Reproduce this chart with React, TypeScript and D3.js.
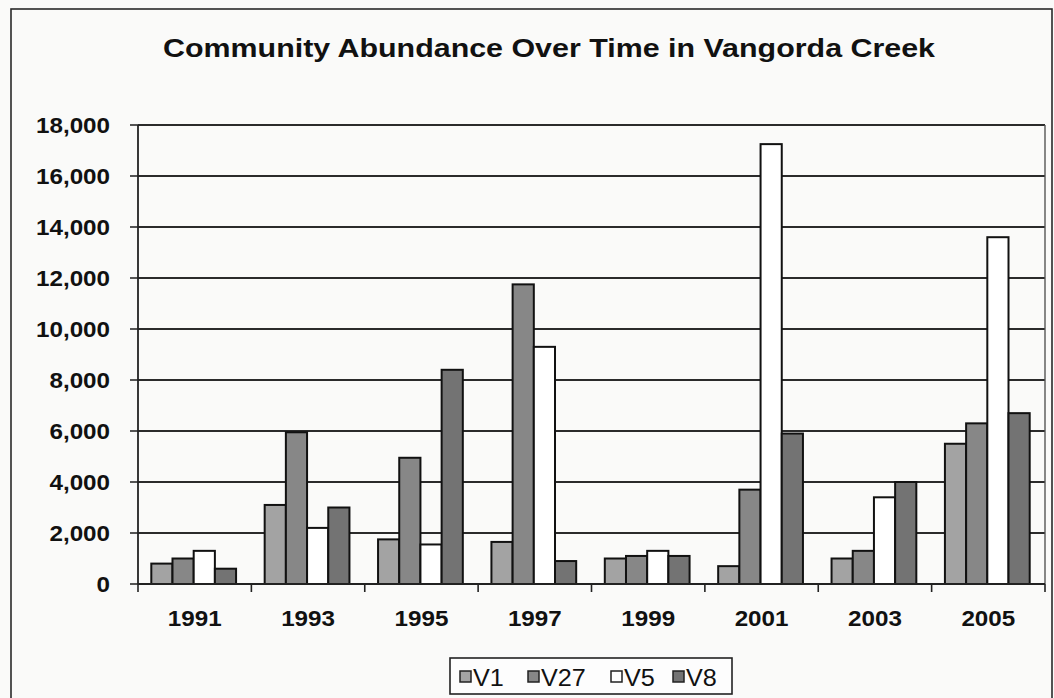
import React from "react";
import * as d3 from "d3";

const years = ["1991", "1993", "1995", "1997", "1999", "2001", "2003", "2005"];
const seriesNames = ["V1", "V27", "V5", "V8"];
const v1 = [800, 3100, 1750, 1650, 1000, 700, 1000, 5500];
const v27 = [1000, 5950, 4950, 11750, 1100, 3700, 1300, 6300];
const v5 = [1300, 2200, 1550, 9300, 1300, 17250, 3400, 13600];
const v8 = [600, 3000, 8400, 900, 1100, 5900, 4000, 6700];
const yTicks = [0, 2000, 4000, 6000, 8000, 10000, 12000, 14000, 16000, 18000];

const seriesValues = [v1, v27, v5, v8];
const fills = ["#a3a3a3", "#878787", "#ffffff", "#737373"];

const W = 1054;
const H = 698;
const plot = { left: 138, right: 1045, top: 125, bottom: 584 };
const FONT = "Arial, 'Liberation Sans', Helvetica, sans-serif";

function Stretched({ x, y, anchor, size, weight, children, dy, sx }: any) {
  return (
    <text
      transform={`translate(${x},${y}) scale(${sx},1)`}
      textAnchor={anchor}
      fontSize={size}
      fontWeight={weight}
      fontFamily={FONT}
      fill="#111"
      dy={dy}
    >
      {children}
    </text>
  );
}

export default function App() {
  const x0 = d3.scaleBand<string>().domain(years).range([plot.left, plot.right]).paddingInner(0).paddingOuter(0);
  const bw = x0.bandwidth();
  const barW = bw / 5.35;
  const groupW = barW * 4;
  const x1 = d3
    .scaleBand<string>()
    .domain(seriesNames)
    .range([(bw - groupW) / 2 - 1, (bw - groupW) / 2 - 1 + groupW]);
  const y = d3.scaleLinear().domain([0, 18000]).range([plot.bottom, plot.top]);
  const fmt = d3.format(",");

  const legendItems = [
    { name: "V1", sx: 460, tx: 473 },
    { name: "V27", sx: 528, tx: 541 },
    { name: "V5", sx: 611, tx: 624 },
    { name: "V8", sx: 673, tx: 686 },
  ];

  return (
    <svg
      width={W}
      height={H}
      style={{ position: "absolute", left: 0, top: 0, background: "#fafaf9" }}
    >
      {/* outer chart frame */}
      <rect x={11} y={9} width={1041} height={720} fill="none" stroke="#2a2a2a" strokeWidth={1.6} />

      {/* title */}
      <text
        x={163}
        y={57}
        textLength={772}
        lengthAdjust="spacingAndGlyphs"
        fontSize={26}
        fontWeight="bold"
        fontFamily={FONT}
        fill="#111"
      >
        Community Abundance Over Time in Vangorda Creek
      </text>

      {/* horizontal gridlines and y ticks */}
      {yTicks.map((t) => (
        <g key={t}>
          {t > 0 && (
            <line x1={plot.left} x2={plot.right} y1={y(t)} y2={y(t)} stroke="#2b2b2b" strokeWidth={1.8} />
          )}
          <line x1={plot.left - 8} x2={plot.left} y1={y(t)} y2={y(t)} stroke="#2b2b2b" strokeWidth={1.6} />
          <Stretched x={110} y={y(t)} anchor="end" size={22} weight="bold" dy="0.36em" sx={1.1}>
            {fmt(t)}
          </Stretched>
        </g>
      ))}

      {/* plot frame: left axis and right edge */}
      <line x1={plot.left} x2={plot.left} y1={plot.top} y2={plot.bottom} stroke="#222" strokeWidth={1.8} />
      <line x1={plot.right} x2={plot.right} y1={plot.top} y2={plot.bottom} stroke="#555" strokeWidth={1.4} />

      {/* bars */}
      {years.map((yr, i) => (
        <g key={yr} transform={`translate(${x0(yr)},0)`}>
          {seriesNames.map((s, k) => {
            const v = seriesValues[k][i];
            return (
              <rect
                key={s}
                x={x1(s)}
                y={y(v)}
                width={x1.bandwidth()}
                height={plot.bottom - y(v)}
                fill={fills[k]}
                stroke="#111"
                strokeWidth={2}
              />
            );
          })}
        </g>
      ))}

      {/* x axis */}
      <line x1={plot.left} x2={plot.right} y1={plot.bottom} y2={plot.bottom} stroke="#222" strokeWidth={2} />
      {years.map((yr) => (
        <line
          key={"t" + yr}
          x1={x0(yr)!}
          x2={x0(yr)!}
          y1={plot.bottom}
          y2={plot.bottom + 8}
          stroke="#222"
          strokeWidth={1.6}
        />
      ))}
      <line x1={plot.right} x2={plot.right} y1={plot.bottom} y2={plot.bottom + 8} stroke="#222" strokeWidth={1.6} />
      {years.map((yr) => (
        <Stretched key={"l" + yr} x={x0(yr)! + bw / 2} y={626} anchor="middle" size={22} weight="bold" sx={1.1}>
          {yr}
        </Stretched>
      ))}

      {/* legend */}
      <rect x={450} y={658} width={282} height={36} fill="#fdfdfd" stroke="#222" strokeWidth={1.6} />
      {legendItems.map((it, k) => (
        <g key={it.name}>
          <rect x={it.sx} y={671} width={11} height={11} fill={fills[k]} stroke="#222" strokeWidth={1.5} />
          <Stretched x={it.tx} y={686} anchor="start" size={24} weight="normal" sx={1.05}>
            {it.name}
          </Stretched>
        </g>
      ))}
    </svg>
  );
}
